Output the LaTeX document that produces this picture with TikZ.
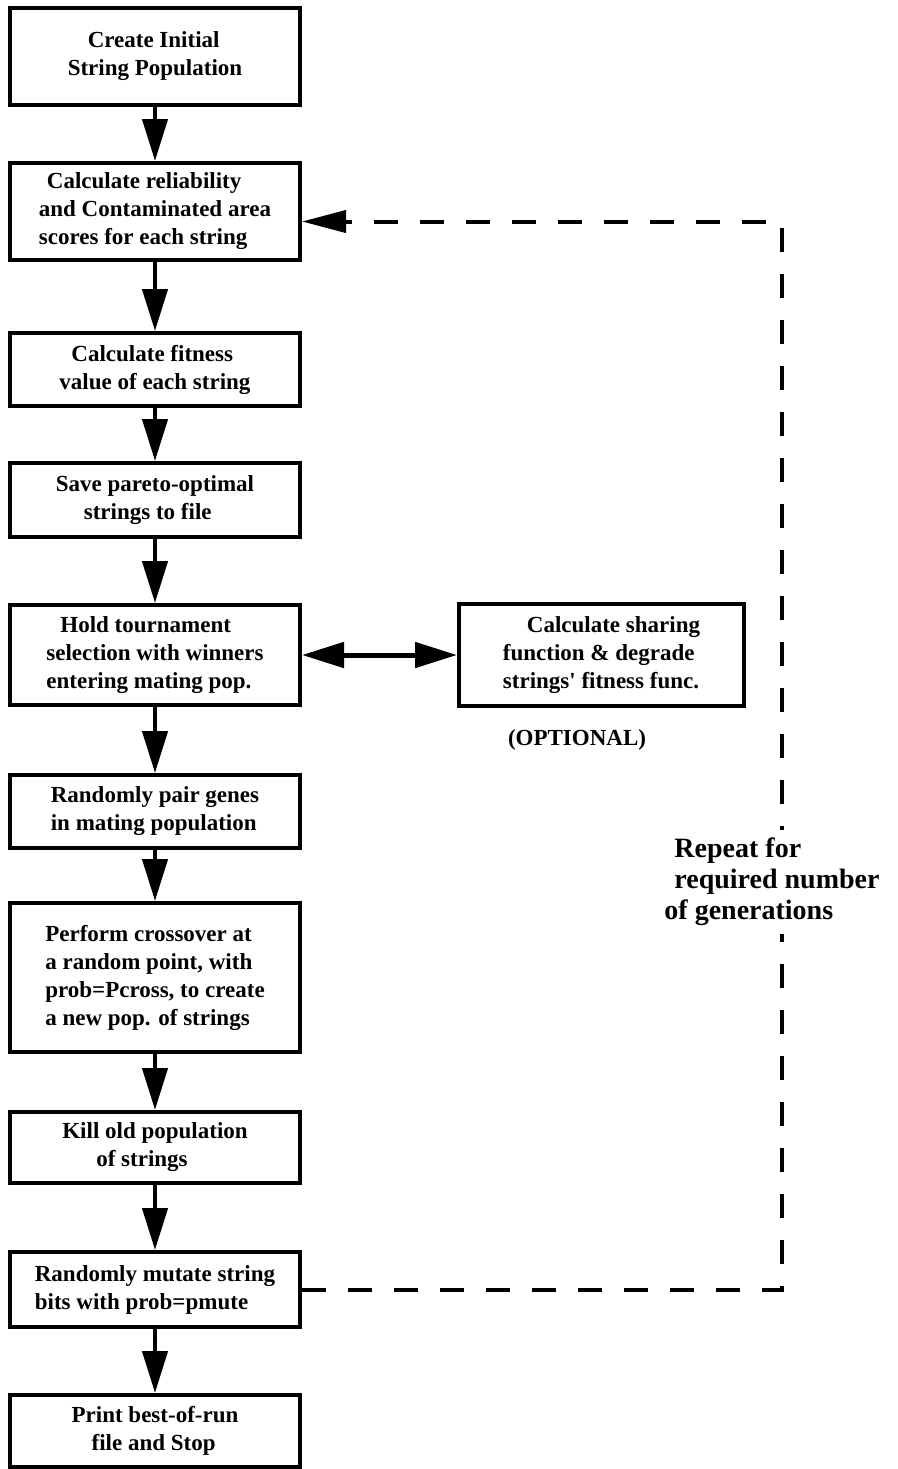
\documentclass[tikz,border=0pt]{standalone}
\usepackage{fontspec}
\setmainfont{Liberation Serif}
\usepackage{tikz}
\usetikzlibrary{positioning,arrows.meta}

\begin{document}
\begin{tikzpicture}[
      x=0.5pt, y=-0.5pt,
      box/.style={draw, line width=2pt, align=left, minimum width=145pt, inner sep=2pt,
        font=\bfseries\fontsize{11.5}{14}\selectfont},
      arr/.style={-{Triangle[length=21pt, width=12.5pt]}, line width=2.2pt},
      dblarr/.style={{Triangle[length=21pt, width=12.5pt]}-{Triangle[length=21pt, width=12.5pt]}, line width=2.5pt},
      loop/.style={-{Triangle[length=22pt, width=11pt]}, line width=2pt, dash pattern=on 12pt off 11pt},
      note/.style={font=\bfseries\fontsize{11.5}{14}\selectfont},
      bignote/.style={font=\bfseries\fontsize{14}{15.5}\selectfont, align=left, fill=white, inner sep=4pt}
    ]
    \useasboundingbox (0,0) rectangle (898,1469);
    \node[box, minimum height=48.5pt] (init) at (155,56.5) {\hspace{10pt}Create Initial\\String Population};
    \node[box, minimum height=48.5pt, below=27pt of init] (score) {\hspace{4pt}Calculate reliability\\and Contaminated area\\scores for each string};
    \node[box, minimum height=36.5pt, below=34.5pt of score] (fit) {\hspace{6pt}Calculate fitness\\value of each string};
    \node[box, minimum height=37pt, below=26.5pt of fit] (save) {Save pareto-optimal\\\hspace{14pt}strings to file};
    \node[box, minimum height=50pt, below=32pt of save] (tour) {\hspace{7pt}Hold tournament\\selection with winners\\entering mating pop.};
    \node[box, minimum height=36.5pt, below=33pt of tour] (pair) {Randomly pair genes\\in mating population};
    \node[box, minimum height=74.5pt, below=25.5pt of pair] (cross) {Perform crossover at\\a random point, with\\prob=Pcross, to create\\a new pop. of strings};
    \node[box, minimum height=35.5pt, below=28pt of cross] (kill) {Kill old population\\\hspace{17pt}of strings};
    \node[box, minimum height=37.5pt, below=32.5pt of kill] (mut) {Randomly mutate string\\bits with prob=pmute};
    \node[box, minimum height=36pt, below=32pt of mut] (stop) {Print best-of-run\\\hspace{10pt}file and Stop};
    \node[box, minimum height=51pt, minimum width=142.5pt, right=77.5pt of tour] (share) {\hspace{12pt}Calculate sharing\\function \& degrade\\strings\textquotesingle{} fitness func.};
    \node[note] (opt) at (577,740) {(OPTIONAL)};
    \coordinate (back) at (782,0);
    % main flow
    \draw[arr] (init) -- (score);
    \draw[arr] (score) -- (fit);
    \draw[arr] (fit) -- (save);
    \draw[arr] (save) -- (tour);
    \draw[arr] (tour) -- (pair);
    \draw[arr] (pair) -- (cross);
    \draw[arr] (cross) -- (kill);
    \draw[arr] (kill) -- (mut);
    \draw[arr] (mut) -- (stop);
    \draw[dblarr] (tour) -- (share);
    % repeat loop
    \draw[loop] (mut.east) -- (mut.east -| back) |- ([yshift=-5pt]score.east);
    \node[bignote] (rep) at (777,882) {Repeat for\\required number\\\hspace{-5pt}of generations};
  \end{tikzpicture}
\end{document}
